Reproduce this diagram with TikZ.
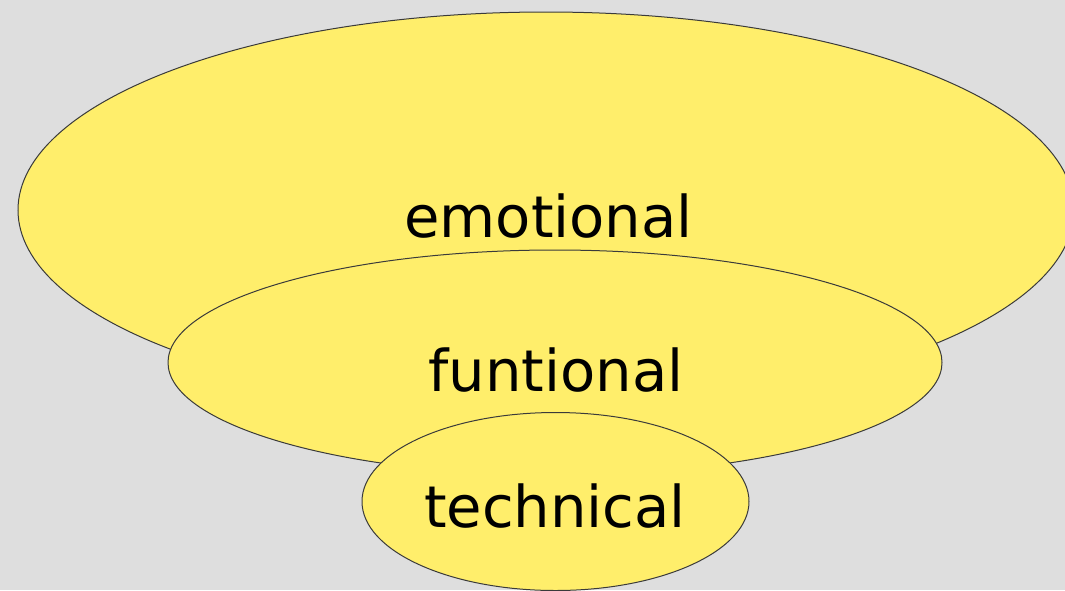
\documentclass[tikz,border=0pt]{standalone}
\usepackage{fontspec}
\setmainfont{DejaVu Sans}
\usetikzlibrary{shapes.geometric}
\definecolor{bg}{HTML}{DEDEDE}
\definecolor{lemon}{HTML}{FFEE6B}
\definecolor{rim}{HTML}{3A3A3A}
\tikzset{
  layer/.style={ellipse, draw=rim, line width=1pt, fill=lemon, inner sep=0pt},
  tag/.style={anchor=base, inner sep=0pt, font=\fontsize{57.6}{58}\selectfont, text=black}
}
\begin{document}
\begin{tikzpicture}[x=1pt, y=-1pt]
  \fill[bg] (0,0) rectangle (1065,590);
  \useasboundingbox (0,0) rectangle (1065,590);
  \begin{scope}
    \clip (0,0) rectangle (1065,590);
    \node[layer, minimum width=1056pt, minimum height=396pt] (emo) at (546,210) {};
    \node[layer, minimum width=774pt, minimum height=225pt] (fun) at (555,362.5) {};
    \node[layer, minimum width=387pt, minimum height=178pt] (tech) at (555.5,501.5) {};
  \end{scope}
  \node[tag] (emotxt) at (548.5,237) {emotional};
  \node[tag] (funtxt) at (556,391) {funtional};
  \node[tag] (techtxt) at (555,527) {technical};
\end{tikzpicture}
\end{document}
